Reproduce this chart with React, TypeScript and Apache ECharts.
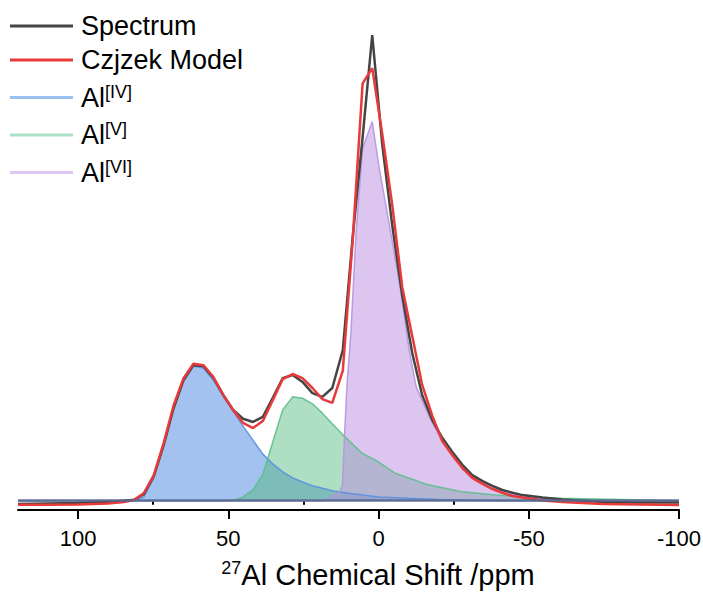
import React, { useEffect, useRef } from "react";
import * as echarts from "echarts";

// Shared ppm grid for the experimental spectrum and the Czjzek model
const ppm = [120, 110, 100, 90, 84.7, 81.4, 78.1, 74.8, 71.5, 68.2, 64.9, 61.6, 58.3, 55, 51.7, 48.4, 45.1, 41.8, 38.5, 35.2, 31.9, 28.6, 25.3, 22, 18.7, 15.4, 11.9, 8.6, 5.3, 2.1, -1.2, -4.5, -7.9, -11.2, -14.5, -17.9, -21.2, -24.5, -27.9, -31.2, -34.6, -37.9, -41.2, -44.6, -47.9, -54.6, -61.2, -67.9, -74.6, -87, -100];
const spectrum = [-0.007, -0.006, -0.005, -0.003, 0, 0.002, 0.014, 0.053, 0.12, 0.199, 0.259, 0.291, 0.289, 0.264, 0.227, 0.195, 0.176, 0.169, 0.18, 0.221, 0.263, 0.27, 0.255, 0.231, 0.223, 0.242, 0.323, 0.566, 0.78, 1.0, 0.767, 0.594, 0.44, 0.317, 0.227, 0.173, 0.135, 0.105, 0.077, 0.055, 0.042, 0.032, 0.023, 0.017, 0.012, 0.007, 0.0026, 0, -0.003, -0.004, -0.004];
const model = [-0.0086, -0.0085, -0.008, -0.006, -0.003, 0.0015, 0.0165, 0.055, 0.124, 0.205, 0.263, 0.294, 0.291, 0.266, 0.227, 0.195, 0.167, 0.156, 0.171, 0.216, 0.261, 0.272, 0.263, 0.242, 0.218, 0.21, 0.279, 0.56, 0.896, 0.929, 0.789, 0.638, 0.458, 0.354, 0.249, 0.182, 0.128, 0.098, 0.07, 0.049, 0.036, 0.025, 0.017, 0.01, 0.007, 0.0004, -0.003, -0.005, -0.007, -0.008, -0.009];

// Al[IV] component
const al4Ppm = [120, 84, 81.4, 78.1, 74.8, 71.5, 68.2, 64.9, 61.6, 58.3, 55, 51.7, 48.4, 45.1, 41.8, 38.5, 35.2, 31.9, 28.6, 25.3, 22, 15, 10, 0, -10, -20, -30, -40, -100];
const al4 = [0, 0, 0.001, 0.008, 0.049, 0.12, 0.199, 0.257, 0.289, 0.285, 0.259, 0.225, 0.192, 0.16, 0.13, 0.1, 0.079, 0.062, 0.049, 0.04, 0.032, 0.021, 0.016, 0.008, 0.005, 0.0026, 0.001, 0, 0];

// Al[V] component
const al5Ppm = [120, 50, 47.6, 45.1, 41.8, 38.5, 35.2, 31.9, 28.6, 25.3, 22, 18.7, 15.4, 12.1, 5.5, 0, -5.5, -16.5, -27.6, -39, -50, -61, -84, -100];
const al5 = [0, 0, 0.002, 0.008, 0.023, 0.057, 0.126, 0.195, 0.223, 0.22, 0.208, 0.188, 0.165, 0.143, 0.102, 0.083, 0.059, 0.034, 0.019, 0.012, 0.007, 0.005, 0.002, 0];

// Al[VI] component
const al6Ppm = [120, 18, 15.4, 13, 12, 11.4, 10.5, 9.2, 7.5, 5.3, 2.1, -0.2, -4.1, -7.5, -10.2, -12.5, -16.9, -21.3, -25.8, -31.3, -39, -45.8, -54.7, -65, -100];
const al6 = [0, 0, 0.01, 0.017, 0.034, 0.13, 0.25, 0.36, 0.574, 0.757, 0.814, 0.715, 0.574, 0.446, 0.323, 0.245, 0.18, 0.127, 0.087, 0.055, 0.027, 0.012, 0.003, 0.0004, 0];

const majorTicks = [100, 50, 0, -50, -100];
const minorTicks = [75, 25, -25, -75];
const seriesNames = ["Spectrum", "Czjzek Model", "Al[IV]", "Al[V]", "Al[VI]"];

const FONT = "'Liberation Sans', Arial, Helvetica, sans-serif";

const zip = (xs: number[], ys: number[]) => xs.map((x, i) => [x, ys[i]]);

export default function App() {
  const ref = useRef<HTMLDivElement>(null);
  useEffect(() => {
    document.body.style.margin = "0";
    const chart = echarts.init(ref.current!, undefined, { renderer: "svg" });

    const legendColors = ["#444444", "#e83a3a", "#9dc0f0", "#ade0c5", "#dcc8f2"];
    const legendTops = [11, 45, 82.5, 120, 157.5];

    const legends = seriesNames.map((n, i) => ({
      data: [{ name: n, itemStyle: { color: legendColors[i], borderWidth: 0 } }],
      left: 10,
      top: legendTops[i],
      orient: "vertical",
      icon: "rect",
      itemWidth: 63,
      itemHeight: 3,
      padding: 0,
      selectedMode: false,
      lineStyle: { width: 0 },
      formatter: (name: string) =>
        name.startsWith("Al") ? `{a|Al}{s|${name.slice(2)}}` : `{a|${name}}`,
      textStyle: {
        color: "#000",
        fontFamily: FONT,
        fontSize: 27,
        lineHeight: 30,
        padding: [0, 0, 0, 3],
        rich: {
          a: { fontSize: 27, lineHeight: 30, fontFamily: FONT, color: "#000" },
          s: { fontSize: 18, lineHeight: 16, verticalAlign: "top", fontFamily: FONT, color: "#000" },
        },
      },
    }));

    const area = (name: string, xs: number[], ys: number[], fill: string, line: string, fillOp: number) => ({
      name,
      type: "line",
      data: zip(xs, ys),
      showSymbol: false,
      symbol: "none",
      smooth: false,
      itemStyle: { color: line },
      lineStyle: { color: line, width: 1.5, opacity: 0.9 },
      areaStyle: { color: fill, opacity: fillOp },
      z: 2,
    });

    const al4Series: any = area("Al[IV]", al4Ppm, al4, "#4a86e0", "#5b8fe0", 0.5);
    al4Series.markLine = {
      silent: true,
      symbol: "none",
      label: { show: false },
      lineStyle: { color: "#56688f", width: 2.5, type: "solid", opacity: 0.9 },
      data: [{ yAxis: 0 }],
    };

    chart.setOption({
      animation: false,
      backgroundColor: "#ffffff",
      legend: legends,
      grid: { left: 18, right: 24, top: 35, bottom: 83, containLabel: false, outerBoundsMode: "none" },
      xAxis: [
        {
          type: "value",
          min: -100,
          max: 120,
          inverse: true,
          splitLine: { show: false },
          axisLine: { show: true, onZero: false, lineStyle: { color: "#000", width: 2 } },
          axisTick: { show: true, length: 9, customValues: majorTicks, lineStyle: { color: "#000", width: 2 } },
          axisLabel: {
            customValues: majorTicks,
            color: "#000",
            fontSize: 22,
            fontFamily: FONT,
            margin: 17,
          },
        },
        {
          type: "value",
          min: -100,
          max: 120,
          inverse: true,
          position: "bottom",
          splitLine: { show: false },
          axisLine: { show: false },
          axisTick: { show: true, length: 4, customValues: minorTicks, lineStyle: { color: "#000", width: 2 } },
          axisLabel: { show: false },
        },
      ],
      yAxis: { type: "value", min: -0.02, max: 1, show: false, splitLine: { show: false } },
      series: [
        al4Series,
        area("Al[V]", al5Ppm, al5, "#4cb87a", "#5cbf8a", 0.45),
        area("Al[VI]", al6Ppm, al6, "#b98be0", "#b793e0", 0.5),
        {
          name: "Spectrum",
          type: "line",
          data: zip(ppm, spectrum),
          showSymbol: false,
          symbol: "none",
          itemStyle: { color: "#444444" },
          lineStyle: { color: "#444444", width: 2.5 },
          z: 3,
        },
        {
          name: "Czjzek Model",
          type: "line",
          data: zip(ppm, model),
          showSymbol: false,
          symbol: "none",
          itemStyle: { color: "#e83a3a" },
          lineStyle: { color: "#e83a3a", width: 2.5 },
          z: 4,
        },
      ],
      graphic: [
        {
          type: "text",
          x: 378,
          y: 575,
          style: {
            text: "{s|27}{b|Al Chemical Shift /ppm}",
            align: "center",
            verticalAlign: "middle",
            rich: {
              b: { fontSize: 29, lineHeight: 32, fontFamily: FONT, fill: "#000", color: "#000" },
              s: { fontSize: 18, lineHeight: 17, verticalAlign: "top", fontFamily: FONT, fill: "#000", color: "#000" },
            },
          },
        },
      ],
    });
    return () => chart.dispose();
  }, []);
  return <div ref={ref} style={{ position: "absolute", left: 0, top: 0, width: 703, height: 593 }} />;
}
